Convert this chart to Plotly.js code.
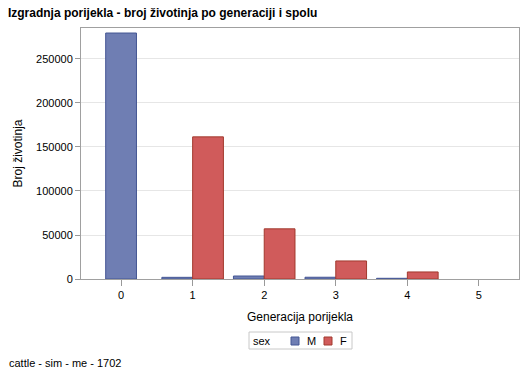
<!DOCTYPE html>
<html><head><meta charset="utf-8">
<script src="https://cdn.plot.ly/plotly-3.0.1.min.js"></script>
<style>body{margin:0;background:#fff}#c{width:529px;height:378px}</style>
</head><body><div id="c"></div>
<script>
const generations = [0, 1, 2, 3, 4, 5];
const maleCounts = [279500, 1900, 3400, 2000, 800, null];
const femaleCounts = [null, 161500, 57000, 20500, 8000, null];
const yTicks = [0, 50000, 100000, 150000, 200000, 250000];
const seriesNames = ['M', 'F'];
const legendTitle = 'sex';

const W = 0.43;
const mOffset = generations.map((g, i) => femaleCounts[i] ? -W : -W / 2);
const fOffset = generations.map((g, i) => maleCounts[i] ? 0 : -W / 2);

const fills = ['#6F7EB3', '#D05B5B'];
const edges = ['#445694', '#A23A2E'];

const font = 'Liberation Sans, Arial, sans-serif';
const traces = [
  {type: 'bar', name: seriesNames[0], x: generations, y: maleCounts, width: W, offset: mOffset,
   marker: {color: fills[0], line: {color: edges[0], width: 1}}},
  {type: 'bar', name: seriesNames[1], x: generations, y: femaleCounts, width: W, offset: fOffset,
   marker: {color: fills[1], line: {color: edges[1], width: 1}}}
];

// manual legend (paper coords)
const px = v => (v - 81) / 438, py = v => (279 - v) / 251;
const shapes = [
  {type: 'rect', xref: 'paper', yref: 'paper', x0: px(249), x1: px(352), y0: py(349), y1: py(332),
   line: {color: '#C8C8C8', width: 1}, fillcolor: 'rgba(0,0,0,0)'},
  {type: 'rect', xref: 'paper', yref: 'paper', x0: px(291), x1: px(299), y0: py(345), y1: py(337),
   line: {color: edges[0], width: 1}, fillcolor: fills[0]},
  {type: 'rect', xref: 'paper', yref: 'paper', x0: px(324), x1: px(332), y0: py(345), y1: py(337),
   line: {color: edges[1], width: 1}, fillcolor: fills[1]}
];
const legendText = (t, x) => ({text: t, xref: 'paper', yref: 'paper', x: px(x), xanchor: 'left',
  y: py(341), yanchor: 'middle', showarrow: false, font: {size: 11}, borderpad: 0});

const layout = {
  width: 529, height: 378,
  margin: {l: 81, r: 10, t: 28, b: 99},
  paper_bgcolor: '#fff', plot_bgcolor: '#fff',
  font: {family: font, size: 11, color: '#000'},
  title: {text: '<b>Izgradnja porijekla - broj životinja po generaciji i spolu</b>',
          x: 0.015, xanchor: 'left', y: 0.965, yanchor: 'middle', font: {size: 12, family: font}},
  barmode: 'overlay',
  showlegend: false,
  xaxis: {type: 'linear', range: [-0.56, 5.56], tickvals: generations, ticktext: generations.map(String),
          ticks: 'outside', ticklen: 6, tickcolor: '#999', showgrid: false, zeroline: false,
          showline: true, linecolor: '#A0A0A0', mirror: true,
          title: {text: 'Generacija porijekla', font: {size: 12}, standoff: 12}},
  yaxis: {range: [0, 285200], tickvals: yTicks, ticktext: yTicks.map(String), ticks: 'outside', ticklen: 5, tickcolor: '#999',
          showgrid: true, gridcolor: '#E6E6E6', zeroline: false,
          showline: true, linecolor: '#A0A0A0', mirror: true,
          title: {text: 'Broj životinja', font: {size: 12}, standoff: 10}},
  shapes: shapes,
  annotations: [
    legendText(legendTitle, 252),
    legendText(seriesNames[0], 306),
    legendText(seriesNames[1], 339),
    {text: 'cattle - sim - me - 1702', xref: 'paper', yref: 'paper',
     x: -0.168, xanchor: 'left', y: -0.336, yanchor: 'middle', showarrow: false, font: {size: 11}}]
};
Plotly.newPlot('c', traces, layout, {displayModeBar: false});
</script></body></html>
